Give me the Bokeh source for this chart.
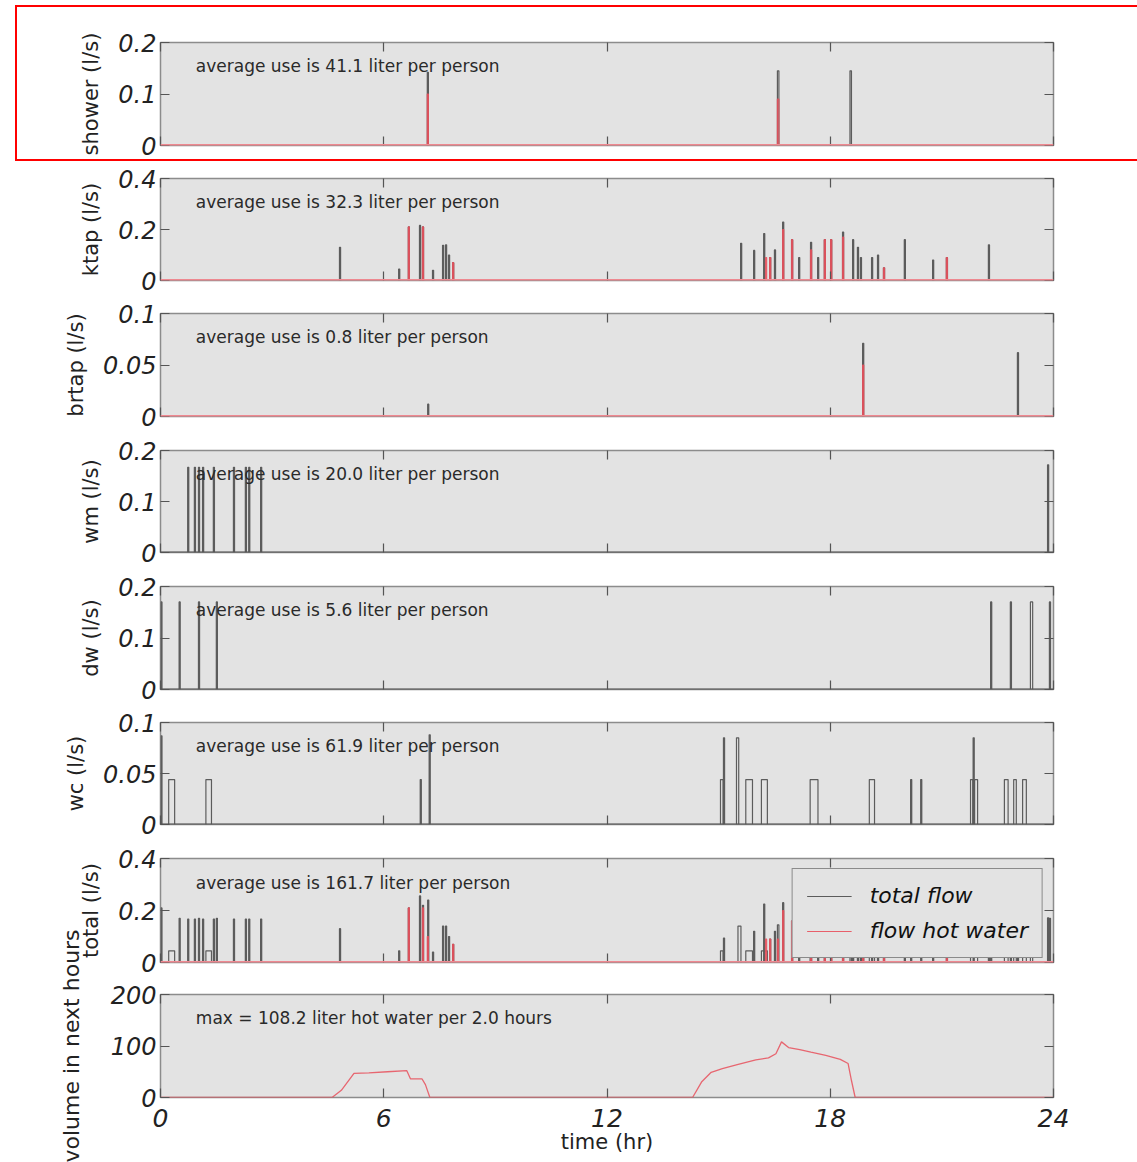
import math
from bokeh.plotting import figure
from bokeh.models import (Range1d, FixedTicker, LinearAxis, Label, Span,
                          Legend, LegendItem, InlineStyleSheet)
from bokeh.layouts import column
from bokeh.embed import file_html
from bokeh.resources import INLINE

# ---------------- data (hours, l/s) ----------------
x_ticks = [0, 6, 12, 18, 24]
x_tick_labels = ["0", "6", "12", "18", "24"]

# shower
shower_start = [7.17, 16.58, 18.53]
shower_dur = [0.03, 0.04, 0.04]
shower_flow = [0.142, 0.145, 0.145]
shower_hot_start = [7.17, 16.58]
shower_hot_dur = [0.03, 0.04]
shower_hot_flow = [0.10, 0.09]

# kitchen tap
ktap_start = [4.81, 6.40, 6.66, 6.96, 7.04, 7.31, 7.58, 7.66, 7.74, 7.85,
              15.59, 15.94, 16.21, 16.37, 16.50, 16.72, 16.96, 17.15, 17.47, 17.66,
              17.84, 18.01, 18.33, 18.60, 18.73, 18.81, 19.11, 19.27, 19.43, 19.99,
              20.75, 21.12, 22.25]
ktap_flow = [0.13, 0.045, 0.21, 0.216, 0.21, 0.04, 0.138, 0.14, 0.10, 0.07,
             0.146, 0.118, 0.184, 0.09, 0.12, 0.229, 0.16, 0.09, 0.15, 0.09,
             0.16, 0.16, 0.19, 0.16, 0.13, 0.09, 0.09, 0.10, 0.05, 0.16,
             0.08, 0.09, 0.14]
ktap_hot_start = [6.66, 7.04, 7.85, 16.26, 16.37, 16.72, 16.96, 17.47, 17.84, 18.01,
                  18.33, 19.43, 21.12]
ktap_hot_flow = [0.21, 0.21, 0.07, 0.09, 0.09, 0.20, 0.16, 0.12, 0.16, 0.16,
                 0.17, 0.05, 0.09]

# bathroom tap
brtap_start = [7.18, 18.87, 23.03]
brtap_flow = [0.012, 0.071, 0.062]
brtap_hot_start = [18.87]
brtap_hot_flow = [0.05]

# washing machine
wm_start = [0.73, 0.91, 1.02, 1.13, 1.42, 1.96, 2.28, 2.37, 2.69, 23.84]
wm_flow = [0.167, 0.167, 0.167, 0.167, 0.167, 0.167, 0.167, 0.167, 0.167, 0.172]

# dish washer
dw_start = [0.01, 0.50, 1.02, 1.50, 22.31, 22.84, 23.38, 23.89]
dw_dur = [0.03, 0.03, 0.03, 0.03, 0.03, 0.03, 0.06, 0.03]
dw_flow = [0.17, 0.17, 0.17, 0.17, 0.17, 0.17, 0.17, 0.17]

# toilet
wc_start = [0.01, 0.22, 1.22, 6.98, 7.22, 15.05, 15.13, 15.48, 15.73, 16.15,
            17.46, 19.05, 20.16, 20.43, 21.77, 21.84, 21.88, 22.68, 22.93, 23.17]
wc_dur = [0.03, 0.16, 0.15, 0.03, 0.03, 0.07, 0.03, 0.06, 0.18, 0.16,
          0.21, 0.14, 0.03, 0.03, 0.06, 0.03, 0.08, 0.10, 0.07, 0.10]
wc_flow = [0.087, 0.044, 0.044, 0.044, 0.088, 0.044, 0.085, 0.085, 0.044, 0.044,
           0.044, 0.044, 0.044, 0.044, 0.044, 0.085, 0.044, 0.044, 0.044, 0.044]

# total
total_start = [0.01, 0.22, 0.50, 0.73, 0.91, 1.02, 1.13, 1.22, 1.42, 1.50,
               1.96, 2.28, 2.37, 2.69, 4.81, 6.40, 6.66, 6.96, 7.04, 7.18,
               7.31, 7.58, 7.66, 7.74, 7.85, 15.05, 15.13, 15.52, 15.73, 15.94,
               16.15, 16.21, 16.37, 16.50, 16.58, 16.72, 16.96, 17.15, 17.46, 17.47,
               17.66, 17.84, 18.01, 18.33, 18.53, 18.60, 18.73, 18.81, 18.87, 19.05,
               19.11, 19.27, 19.43, 19.99, 20.16, 20.43, 20.75, 21.12, 21.77, 21.84,
               22.25, 22.31, 22.68, 22.84, 22.93, 23.03, 23.17, 23.38, 23.84, 23.89]
total_dur = [0.03, 0.16, 0.03, 0.03, 0.03, 0.03, 0.03, 0.15, 0.03, 0.03,
             0.03, 0.03, 0.03, 0.03, 0.03, 0.03, 0.03, 0.03, 0.03, 0.03,
             0.03, 0.03, 0.03, 0.03, 0.03, 0.07, 0.03, 0.08, 0.18, 0.03,
             0.16, 0.03, 0.03, 0.03, 0.04, 0.03, 0.03, 0.03, 0.21, 0.03,
             0.03, 0.03, 0.03, 0.03, 0.04, 0.03, 0.03, 0.03, 0.03, 0.14,
             0.03, 0.03, 0.03, 0.03, 0.03, 0.03, 0.03, 0.03, 0.19, 0.03,
             0.03, 0.03, 0.10, 0.03, 0.07, 0.03, 0.10, 0.06, 0.03, 0.03]
total_flow = [0.21, 0.045, 0.17, 0.167, 0.167, 0.17, 0.167, 0.045, 0.167, 0.17,
              0.167, 0.167, 0.167, 0.167, 0.13, 0.045, 0.21, 0.256, 0.22, 0.24,
              0.04, 0.14, 0.14, 0.10, 0.07, 0.045, 0.094, 0.14, 0.045, 0.12,
              0.045, 0.225, 0.09, 0.12, 0.145, 0.23, 0.16, 0.09, 0.045, 0.19,
              0.13, 0.16, 0.16, 0.19, 0.145, 0.16, 0.13, 0.09, 0.071, 0.045,
              0.13, 0.10, 0.05, 0.16, 0.044, 0.044, 0.08, 0.09, 0.045, 0.085,
              0.14, 0.17, 0.045, 0.17, 0.045, 0.062, 0.045, 0.17, 0.172, 0.17]
total_hot_start = [6.66, 7.04, 7.17, 7.85, 16.26, 16.37, 16.58, 16.72, 16.96, 17.47,
                   17.84, 18.01, 18.33, 18.87, 19.43, 21.12]
total_hot_flow = [0.21, 0.21, 0.10, 0.07, 0.09, 0.09, 0.09, 0.20, 0.16, 0.12,
                  0.16, 0.16, 0.17, 0.05, 0.05, 0.09]

# hot water volume in next 2 hours (liter)
vol_hours = [0, 4.61, 4.86, 5.20, 5.60, 6.10, 6.62, 6.72, 7.03, 7.12,
             7.24, 14.30, 14.54, 14.80, 15.10, 15.50, 16.00, 16.34, 16.54, 16.69,
             16.88, 17.18, 17.48, 17.88, 18.27, 18.48, 18.57, 18.67, 24]
vol_liters = [0, 0, 14, 47, 48, 50, 52, 36, 36, 25,
              0, 0, 30, 49, 56, 64, 73, 77, 85, 108,
              97, 93, 88, 82, 74, 66, 33, 0, 0]

SPIKE_DUR = 0.03

# ---------------- style ----------------
TOTAL_COLOR = "#5c5c5c"
HOT_COLOR = "#e8505c"
BG = "#e3e3e3"
FRAME = "#8c8c8c"
FONT = "DejaVu Sans"


def pulses(start, flow, dur=None):
    if dur is None:
        dur = [SPIKE_DUR] * len(start)
    xs = [[s, s, s + d, s + d] for s, d in zip(start, dur)]
    ys = [[0, v, v, 0] for v in flow]
    return xs, ys


def hide_labels(ax, ticks):
    ax.major_label_overrides = {t: "" for t in ticks}
    ax.major_label_standoff = 0


def make_fig(h, top, bottom, ymax, yticks, ylabels, ylabel, text, last=False,
             label_standoff=12, label_size="21px"):
    p = figure(width=1137, height=h, x_range=Range1d(0, 24), y_range=Range1d(0, ymax),
               output_backend="svg", toolbar_location=None,
               min_border_left=160, min_border_right=84,
               min_border_top=top, min_border_bottom=bottom)
    p.background_fill_color = BG
    p.border_fill_color = "white"
    p.outline_line_color = FRAME
    p.outline_line_width = 1.5
    p.grid.visible = False
    p.add_layout(LinearAxis(), "right")
    p.add_layout(LinearAxis(), "above")
    for ax in list(p.xaxis) + list(p.yaxis):
        ax.axis_line_color = None
        ax.major_tick_in = 9
        ax.major_tick_out = 0
        ax.minor_tick_in = 0
        ax.minor_tick_out = 0
        ax.major_tick_line_color = "#555555"
        ax.major_tick_line_width = 1.2
    for ax in p.yaxis:
        ax.ticker = FixedTicker(ticks=yticks)
    for ax in p.xaxis:
        ax.ticker = FixedTicker(ticks=x_ticks)
    left = p.left[0]
    left.major_label_overrides = {t: l for t, l in zip(yticks, ylabels)}
    left.major_label_text_font = FONT
    left.major_label_text_font_style = "italic"
    left.major_label_text_font_size = "24px"
    left.major_label_text_color = "#222222"
    left.major_label_standoff = 4
    left.axis_label = ylabel
    left.axis_label_text_font = FONT
    left.axis_label_text_font_style = "normal"
    left.axis_label_text_font_size = label_size
    left.axis_label_text_color = "#222222"
    left.axis_label_standoff = label_standoff
    hide_labels(p.right[0], yticks)
    hide_labels(p.above[0], x_ticks)
    bottom_ax = p.below[0]
    if last:
        bottom_ax.major_label_overrides = {t: l for t, l in zip(x_ticks, x_tick_labels)}
        bottom_ax.major_label_text_font = FONT
        bottom_ax.major_label_text_font_style = "italic"
        bottom_ax.major_label_text_font_size = "25px"
        bottom_ax.major_label_text_color = "#222222"
        bottom_ax.major_label_standoff = 11
        bottom_ax.axis_label = "time (hr)"
        bottom_ax.axis_label_text_font = FONT
        bottom_ax.axis_label_text_font_style = "normal"
        bottom_ax.axis_label_text_font_size = "21px"
        bottom_ax.axis_label_text_color = "#222222"
        bottom_ax.axis_label_standoff = 0
    else:
        hide_labels(bottom_ax, x_ticks)
    p.add_layout(Label(x=0.95, y=0.767 * ymax, text=text, text_baseline="middle",
                       text_font=FONT, text_font_size="17px", text_color="#2a2a2a"))
    return p


def add_flows(p, start, flow, dur=None, hot_start=None, hot_flow=None, hot_dur=None):
    xs, ys = pulses(start, flow, dur)
    r_tot = p.multi_line(xs, ys, line_color=TOTAL_COLOR, line_width=1.2)
    r_hot = None
    if hot_start is not None:
        hx, hy = pulses(hot_start, hot_flow, hot_dur)
        r_hot = p.multi_line(hx, hy, line_color=HOT_COLOR, line_width=1.2, line_alpha=0.9)
        p.add_layout(Span(location=0, dimension="width", line_color="#ee8890", line_width=3))
    else:
        p.add_layout(Span(location=0, dimension="width", line_color="#555555", line_width=2))
    return r_tot, r_hot


# 1 shower
p1 = make_fig(162, 42, 17, 0.2, [0, 0.1, 0.2], ["0", "0.1", "0.2"], "shower (l/s)",
              "average use is 41.1 liter per person")
add_flows(p1, shower_start, shower_flow, shower_dur, shower_hot_start, shower_hot_flow, shower_hot_dur)
# red highlight frame around the first panel (decoration of the reference picture)
p1.stylesheets = [InlineStyleSheet(css="""
:host::after {
  content: "";
  position: absolute;
  left: 15px; top: 5px; width: 1122px; height: 156px;
  box-sizing: border-box;
  border: 2.5px solid #ff0000; border-right: none;
  pointer-events: none; z-index: 100;
}
""")]

# 2 ktap
p2 = make_fig(135, 16, 17, 0.4, [0, 0.2, 0.4], ["0", "0.2", "0.4"], "ktap (l/s)",
              "average use is 32.3 liter per person")
add_flows(p2, ktap_start, ktap_flow, None, ktap_hot_start, ktap_hot_flow)

# 3 brtap
p3 = make_fig(136, 16, 17, 0.1, [0, 0.05, 0.1], ["0", "0.05", "0.1"], "brtap (l/s)",
              "average use is 0.8 liter per person")
add_flows(p3, brtap_start, brtap_flow, None, brtap_hot_start, brtap_hot_flow)

# 4 wm
p4 = make_fig(136, 17, 17, 0.2, [0, 0.1, 0.2], ["0", "0.1", "0.2"], "wm (l/s)",
              "average use is 20.0 liter per person")
add_flows(p4, wm_start, wm_flow)

# 5 dw
p5 = make_fig(136, 17, 16, 0.2, [0, 0.1, 0.2], ["0", "0.1", "0.2"], "dw (l/s)",
              "average use is 5.6 liter per person")
add_flows(p5, dw_start, dw_flow, dw_dur)

# 6 wc
p6 = make_fig(136, 17, 17, 0.1, [0, 0.05, 0.1], ["0", "0.05", "0.1"], "wc (l/s)",
              "average use is 61.9 liter per person")
add_flows(p6, wc_start, wc_flow, wc_dur)

# 7 total
p7 = make_fig(139, 17, 18, 0.4, [0, 0.2, 0.4], ["0", "0.2", "0.4"], "total (l/s)",
              "average use is 161.7 liter per person")
r_tot, r_hot = add_flows(p7, total_start, total_flow, total_dur, total_hot_start, total_hot_flow)
legend = Legend(items=[LegendItem(label="total flow", renderers=[r_tot]),
                       LegendItem(label="flow hot water", renderers=[r_hot])],
                location="top_right", margin=10, padding=14, spacing=10,
                glyph_width=45, glyph_height=20, label_standoff=18,
                label_text_font=FONT, label_text_font_style="italic",
                label_text_font_size="22px", label_text_color="#111111",
                background_fill_color=BG, background_fill_alpha=1.0,
                border_line_color="#333333", border_line_width=1.5)
p7.add_layout(legend)

# 8 volume (its canvas overlaps the bottom of panel 7 so the long label can run upward)
p8 = make_fig(237, 69, 65, 200, [0, 100, 200], ["0", "100", "200"], "volume in next hours",
              "max = 108.2 liter hot water per 2.0 hours", last=True, label_standoff=24,
              label_size="22px")
p8.border_fill_alpha = 0
p8.margin = (-55, 0, 0, 0)
p8.line(vol_hours, vol_liters, line_color=HOT_COLOR, line_width=1.3, line_alpha=0.85)

layout = column(p1, p2, p3, p4, p5, p6, p7, p8, spacing=0)
open("out.html", "w").write(file_html(layout, INLINE))
